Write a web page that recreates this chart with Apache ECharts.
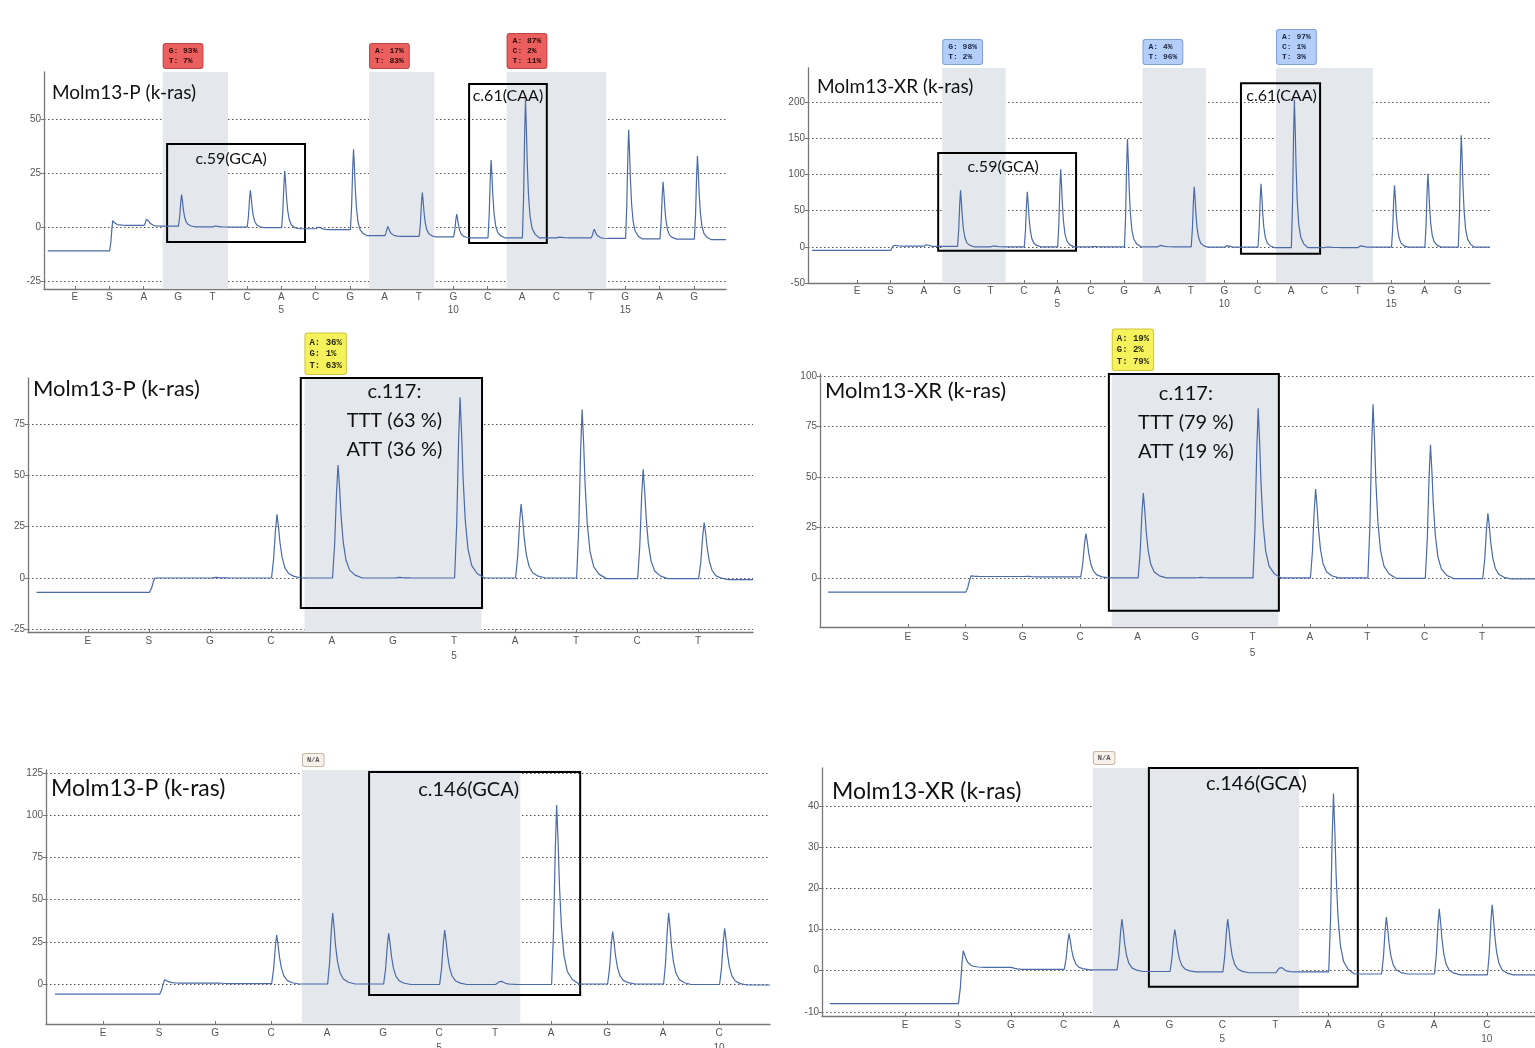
<!DOCTYPE html>
<html>
<head>
<meta charset="utf-8">
<title>Molm13 k-ras pyrograms</title>
<script src="https://cdn.jsdelivr.net/npm/echarts@6/dist/echarts.min.js"></script>
<style>
  html, body { margin: 0; padding: 0; background: #ffffff; }
  #chart { width: 1535px; height: 1048px; }
</style>
</head>
<body>
<div id="chart"></div>
<script>
// ---------- Codons 59/61, Molm13-P ----------
const p1Letters = ['E','S','A','G','T','C','A','C','G','A','T','G','C','A','C','T','G','A','G'];
const p1Numbers = ['','','','','','','5','','','','','10','','','','','15','',''];
const p1Peaks   = [null, 3, 4.5, 15, 0.6, 17, 26, 0.2, 36, 0.3, 16, 6, 31, 59, -4.6, -1, 45, 21, 33];
const p1Base    = [-11, 0.8, 0.4, 0.1, 0, -0.3, -0.8, -1.2, -4, -4.3, -4.6, -5, -5, -5, -5, -5.3, -5.5, -5.6, -5.8];
const p1YTicks  = [-25, 0, 25, 50];
const p1Calls   = [[3, 4], [9, 10], [13, 15]];
const p1CallText = ['G: 93%\nT: 7%', 'A: 17%\nT: 83%', 'A: 87%\nC: 2%\nT: 11%'];
const p1BoxX    = [[2.68, 6.69], [11.46, 13.72]];
const p1BoxY    = [[-6.9, 38.4], [-7.4, 66.2]];
const p1BoxText = ['c.59(GCA)', 'c.61(CAA)'];

// ---------- Codons 59/61, Molm13-XR ----------
const p2Letters = ['E','S','A','G','T','C','A','C','G','A','T','G','C','A','C','T','G','A','G'];
const p2Numbers = ['','','','','','','5','','','','','10','','','','','15','',''];
const p2Peaks   = [null, 3, 3.5, 78, 1.5, 76, 107, 0.5, 149, 2.5, 83, 2, 87, 203, 0, 2, 85, 101, 154];
const p2Base    = [-5, 1, 0.5, 0, 0, 0, 0, 0, 0, 0, -0.5, -0.5, -1, -1, -1, -0.5, -0.5, -0.5, -0.5];
const p2YTicks  = [-50, 0, 50, 100, 150, 200];
const p2Calls   = [[3, 4], [9, 10], [13, 15]];
const p2CallText = ['G: 98%\nT: 2%', 'A: 4%\nT: 96%', 'A: 97%\nC: 1%\nT: 3%'];
const p2BoxX    = [[2.43, 6.56], [11.5, 13.87]];
const p2BoxY    = [[-5.5, 129.7], [-9.7, 226]];
const p2BoxText = ['c.59(GCA)', 'c.61(CAA)'];

// ---------- Codon 117, Molm13-P ----------
const p3Letters = ['E','S','G','C','A','G','T','A','T','C','T'];
const p3Numbers = ['','','','','','','5','','','',''];
const p3Peaks   = [null, 0, 0.3, 31, 55, 0.3, 88, 36, 82, 53, 27];
const p3Base    = [-7, 0, 0, 0, 0, 0, 0, 0, -0.3, -0.3, -0.8];
const p3YTicks  = [-25, 0, 25, 50, 75];
const p3Calls   = [[4, 6]];
const p3CallText = ['A: 36%\nG: 1%\nT: 63%'];
const p3BoxX    = [[3.49, 6.46]];
const p3BoxY    = [[-14.6, 97.4]];
const p3BoxText = ['c.117:\nTTT (63 %)\nATT (36 %)'];

// ---------- Codon 117, Molm13-XR ----------
const p4Letters = ['E','S','G','C','A','G','T','A','T','C','T'];
const p4Numbers = ['','','','','','','5','','','',''];
const p4Peaks   = [null, 1, 0.8, 22, 42, 0.3, 84, 44, 86, 66, 32];
const p4Base    = [-7, 0.7, 0.5, 0, 0, 0, 0, 0, -0.2, -0.3, -0.5];
const p4YTicks  = [0, 25, 50, 75, 100];
const p4Calls   = [[4, 6]];
const p4CallText = ['A: 19%\nG: 2%\nT: 79%'];
const p4BoxX    = [[3.50, 6.46]];
const p4BoxY    = [[-16.3, 101]];
const p4BoxText = ['c.117:\nTTT (79 %)\nATT (19 %)'];

// ---------- Codon 146, Molm13-P ----------
const p5Letters = ['E','S','G','C','A','G','C','T','A','G','A','C'];
const p5Numbers = ['','','','','','','5','','','','','10'];
const p5Peaks   = [null, 2.5, 0.5, 29, 42, 30, 32, 2, 106, 31, 42, 33];
const p5Base    = [-6, 0.5, 0.2, 0, 0, -0.3, -0.3, -0.3, 0, 0, -0.3, -0.6];
const p5YTicks  = [0, 25, 50, 75, 100, 125];
const p5Calls   = [[4, 7]];
const p5CallText = ['N/A'];
const p5BoxX    = [[4.75, 8.52]];
const p5BoxY    = [[-6.5, 125.6]];
const p5BoxText = ['c.146(GCA)'];

// ---------- Codon 146, Molm13-XR ----------
const p6Letters = ['E','S','G','C','A','G','C','T','A','G','A','C'];
const p6Numbers = ['','','','','','','5','','','','','10'];
const p6Peaks   = [null, 4.8, 0.5, 9, 12.5, 10, 12.5, 1, 43, 13, 15, 16];
const p6Base    = [-8, 0.8, 0.3, 0.2, -0.2, -0.3, -0.5, -0.3, -0.8, -0.8, -1, -1];
const p6YTicks  = [-10, 0, 10, 20, 30, 40];
const p6Calls   = [[4, 7]];
const p6CallText = ['N/A'];
const p6BoxX    = [[4.61, 8.56]];
const p6BoxY    = [[-3.9, 49.2]];
const p6BoxText = ['c.146(GCA)'];

// Light-emission peak profile: offsets in dispensation units, fraction of peak height
const RISE  = [[-0.09, 0], [-0.055, 0.3], [-0.025, 0.75], [0, 1]];
const DECAY = [[0.025, 0.8], [0.05, 0.55], [0.085, 0.32], [0.13, 0.16], [0.19, 0.07], [0.28, 0.025], [0.4, 0]];
const PEAK_SHIFT = 0.1;

function buildTrace(peaks, base, start, end) {
  const pts = [[start, base[0]]];
  for (let i = 1; i < peaks.length; i++) {
    const t = i + PEAK_SHIFT;
    const prev = base[i - 1], top = peaks[i], next = base[i];
    RISE.forEach(([dx, f]) => pts.push([t + dx, prev + (top - prev) * f]));
    DECAY.forEach(([dx, f]) => pts.push([t + dx, next + (top - next) * f]));
  }
  pts.push([end, base[base.length - 1]]);
  return pts;
}

const TAGS = {
  red:    { backgroundColor: '#ec5f5f', borderColor: '#c04646', color: '#2a0808' },
  blue:   { backgroundColor: '#b4cefa', borderColor: '#80a0da', color: '#1b2440' },
  yellow: { backgroundColor: '#f6f25c', borderColor: '#cfc43c', color: '#2a2a10' },
  na:     { backgroundColor: '#f7f1ea', borderColor: '#c6b6a4', color: '#555555' }
};

const panels = [
  { letters: p1Letters, numbers: p1Numbers, peaks: p1Peaks, base: p1Base, yTicks: p1YTicks,
    calls: p1Calls, callText: p1CallText, boxX: p1BoxX, boxY: p1BoxY, boxText: p1BoxText,
    title: 'Molm13-P (k-ras)', titleSize: 19, titlePos: [52, 83],
    grid: { left: 44, top: 72, width: 682, height: 217 }, x: [-0.9, 18.93], y: [-28.7, 71.8],
    traceStart: -0.79, numLine: 13, tag: 'red', tagFont: 8, tagLine: 10, tagPad: [2, 5],
    boxFont: 16, boxLine: 20, boxDist: [6, 3], boxDx: [-5, 0] },
  { letters: p2Letters, numbers: p2Numbers, peaks: p2Peaks, base: p2Base, yTicks: p2YTicks,
    calls: p2Calls, callText: p2CallText, boxX: p2BoxX, boxY: p2BoxY, boxText: p2BoxText,
    title: 'Molm13-XR (k-ras)', titleSize: 19, titlePos: [817, 77],
    grid: { left: 808, top: 68, width: 682, height: 215 }, x: [-1.47, 18.96], y: [-50, 247],
    traceStart: -1.35, numLine: 13, tag: 'blue', tagFont: 8, tagLine: 10, tagPad: [2, 5],
    boxFont: 16, boxLine: 20, boxDist: [5, 4], boxDx: [-4, 1] },
  { letters: p3Letters, numbers: p3Numbers, peaks: p3Peaks, base: p3Base, yTicks: p3YTicks,
    calls: p3Calls, callText: p3CallText, boxX: p3BoxX, boxY: p3BoxY, boxText: p3BoxText,
    title: 'Molm13-P (k-ras)', titleSize: 22, titlePos: [33, 378],
    grid: { left: 28, top: 378, width: 725, height: 254 }, x: [-0.98, 10.9], y: [-26.3, 97.4],
    traceStart: -0.84, numLine: 15, tag: 'yellow', tagFont: 9, tagLine: 11.5, tagPad: [3, 4],
    boxFont: 20, boxLine: 29, boxDist: [0], boxDx: [3] },
  { letters: p4Letters, numbers: p4Numbers, peaks: p4Peaks, base: p4Base, yTicks: p4YTicks,
    calls: p4Calls, callText: p4CallText, boxX: p4BoxX, boxY: p4BoxY, boxText: p4BoxText,
    title: 'Molm13-XR (k-ras)', titleSize: 22, titlePos: [825, 380],
    grid: { left: 820, top: 374, width: 715, height: 253 }, x: [-1.53, 10.92], y: [-24.3, 101],
    traceStart: -1.39, numLine: 16, tag: 'yellow', tagFont: 9, tagLine: 11.5, tagPad: [3, 4],
    boxFont: 20, boxLine: 29, boxDist: [6], boxDx: [-8] },
  { letters: p5Letters, numbers: p5Numbers, peaks: p5Peaks, base: p5Base, yTicks: p5YTicks,
    calls: p5Calls, callText: p5CallText, boxX: p5BoxX, boxY: p5BoxY, boxText: p5BoxText,
    title: 'Molm13-P (k-ras)', titleSize: 23, titlePos: [51, 777],
    grid: { left: 46, top: 770, width: 724, height: 254 }, x: [-1.02, 11.91], y: [-23.7, 126.8],
    traceStart: -0.86, numLine: 15, tag: 'na', tagFont: 7, tagLine: 9, tagPad: [1.5, 4],
    boxFont: 20, boxLine: 24, boxDist: [7], boxDx: [-6] },
  { letters: p6Letters, numbers: p6Numbers, peaks: p6Peaks, base: p6Base, yTicks: p6YTicks,
    calls: p6Calls, callText: p6CallText, boxX: p6BoxX, boxY: p6BoxY, boxText: p6BoxText,
    title: 'Molm13-XR (k-ras)', titleSize: 23, titlePos: [832, 780],
    grid: { left: 822, top: 768, width: 713, height: 248 }, x: [-1.57, 11.91], y: [-11, 49.2],
    traceStart: -1.42, numLine: 14, tag: 'na', tagFont: 7, tagLine: 9, tagPad: [1.5, 4],
    boxFont: 20, boxLine: 24, boxDist: [5], boxDx: [3] }
];

function areasFor(p) {
  const data = [];
  const tag = TAGS[p.tag];
  p.calls.forEach(([a, b], k) => {
    data.push([
      { xAxis: a - 0.45, yAxis: p.y[1],
        itemStyle: { color: '#e4e8ed', borderWidth: 0 },
        label: { show: true, formatter: p.callText[k], position: [1, -4], align: 'left', verticalAlign: 'bottom',
                 fontFamily: 'Liberation Mono', fontSize: p.tagFont, lineHeight: p.tagLine, fontWeight: 'bold',
                 color: tag.color, backgroundColor: tag.backgroundColor, borderColor: tag.borderColor,
                 borderWidth: 1, borderRadius: 2, padding: p.tagPad } },
      { xAxis: b + 0.45, yAxis: p.y[0] }
    ]);
  });
  p.boxX.forEach((bx, k) => {
    data.push([
      { xAxis: bx[0], yAxis: p.boxY[k][1],
        itemStyle: { color: 'rgba(0,0,0,0)', borderColor: '#000000', borderWidth: 2 },
        label: { show: true, formatter: p.boxText[k], position: 'insideTop', distance: p.boxDist[k],
                 offset: [p.boxDx[k], 0], fontFamily: 'Lato', fontSize: p.boxFont, lineHeight: p.boxLine,
                 color: '#111111', align: 'center' } },
      { xAxis: bx[1], yAxis: p.boxY[k][0] }
    ]);
  });
  return data;
}

const chart = echarts.init(document.getElementById('chart'), null, { renderer: 'canvas' });

chart.setOption({
  animation: false,
  backgroundColor: '#ffffff',
  title: panels.map(p => ({
    text: p.title, left: p.titlePos[0], top: p.titlePos[1], padding: 0,
    textStyle: { fontFamily: 'Lato', fontSize: p.titleSize, fontWeight: 'normal', color: '#111111' }
  })),
  grid: panels.map(p => Object.assign({ containLabel: false, outerBoundsMode: 'none' }, p.grid)),
  xAxis: panels.map((p, i) => ({
    type: 'value', gridIndex: i, min: p.x[0], max: p.x[1],
    axisLine: { show: true, onZero: false, lineStyle: { color: '#777777', width: 1.3 } },
    axisTick: { show: true, inside: true, length: 3, customValues: p.letters.map((_, k) => k), lineStyle: { color: '#777777' } },
    axisLabel: {
      customValues: p.letters.map((_, k) => k),
      formatter: v => { const k = Math.round(v); return p.letters[k] + (p.numbers[k] ? '\n' + p.numbers[k] : ''); },
      fontFamily: 'Liberation Sans', fontSize: 10, color: '#555555', lineHeight: p.numLine, margin: 2
    },
    splitLine: { show: false }
  })),
  yAxis: panels.map((p, i) => ({
    type: 'value', gridIndex: i, min: p.y[0], max: p.y[1],
    axisLine: { show: true, onZero: false, lineStyle: { color: '#777777', width: 1.3 } },
    axisTick: { show: true, length: 3, customValues: p.yTicks, lineStyle: { color: '#777777' } },
    axisLabel: { customValues: p.yTicks, fontFamily: 'Liberation Sans', fontSize: 10, color: '#555555', margin: 3 },
    splitLine: { show: true, lineStyle: { type: [1.5, 2.5], color: '#555555', width: 1 } }
  })),
  series: panels.map((p, i) => ({
    type: 'line', xAxisIndex: i, yAxisIndex: i,
    data: buildTrace(p.peaks, p.base, p.traceStart, p.x[1]),
    showSymbol: false, symbol: 'none', clip: false, silent: true,
    lineStyle: { color: '#4a6aa8', width: 1.2 },
    markArea: { silent: true, data: areasFor(p) }
  }))
});
</script>
</body>
</html>
